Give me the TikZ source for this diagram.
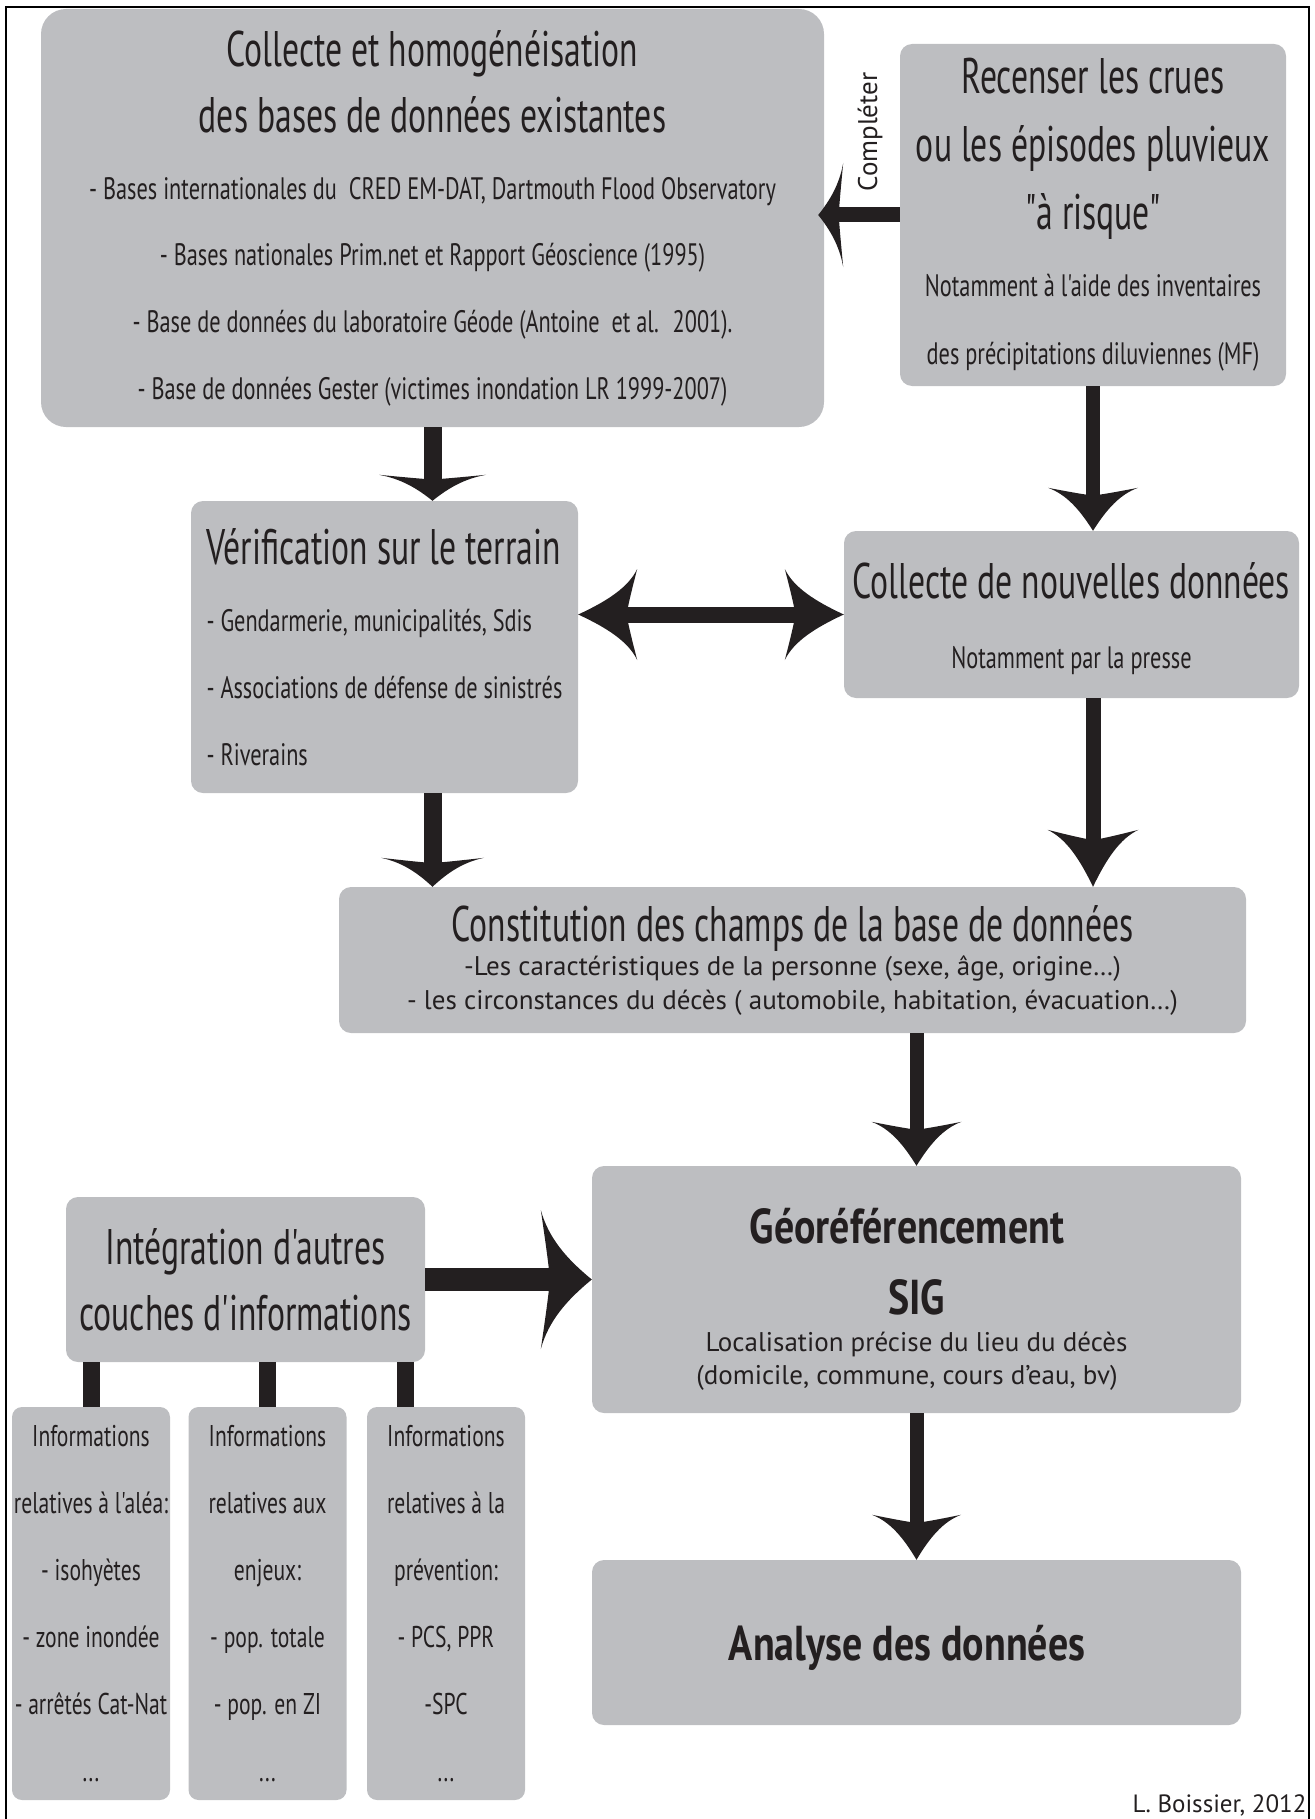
\documentclass[tikz,border=0pt]{standalone}
\usepackage{fontspec}
\setmainfont{PT Sans}[Ligatures=TeXOff]
\newfontfamily\condfont{PT Sans}[Ligatures=TeXOff, FakeStretch=0.673]
\newfontfamily\bcondfont{PT Sans}[Ligatures=TeXOff, FakeStretch=0.815]
\newfontfamily\semifont{PT Sans}[Ligatures=TeXOff, FakeStretch=0.72]
\usetikzlibrary{arrows.meta}

\definecolor{boxgray}{RGB}{189,190,193}
\definecolor{ink}{RGB}{35,31,32}

% swept arrow head
\pgfdeclarearrow{
  name = Swoop,
  parameters = {\the\pgfarrowlength,\the\pgfarrowwidth},
  setup code = {
    \pgfarrowssettipend{0pt}
    \pgfarrowssetlineend{-.7\pgfarrowlength}
    \pgfarrowssetbackend{-\pgfarrowlength}
    \pgfarrowshullpoint{0pt}{0pt}
    \pgfarrowsupperhullpoint{-\pgfarrowlength}{.5\pgfarrowwidth}
    \pgfarrowssavethe\pgfarrowlength
    \pgfarrowssavethe\pgfarrowwidth
  },
  drawing code = {
    \pgfpathmoveto{\pgfpointorigin}
    \pgfpathcurveto{\pgfpoint{-.5\pgfarrowlength}{.15\pgfarrowwidth}}{\pgfpoint{-.85\pgfarrowlength}{.3\pgfarrowwidth}}{\pgfpoint{-\pgfarrowlength}{.5\pgfarrowwidth}}
    \pgfpathcurveto{\pgfpoint{-.92\pgfarrowlength}{.3\pgfarrowwidth}}{\pgfpoint{-.85\pgfarrowlength}{.12\pgfarrowwidth}}{\pgfpoint{-.82\pgfarrowlength}{0pt}}
    \pgfpathcurveto{\pgfpoint{-.85\pgfarrowlength}{-.12\pgfarrowwidth}}{\pgfpoint{-.92\pgfarrowlength}{-.3\pgfarrowwidth}}{\pgfpoint{-\pgfarrowlength}{-.5\pgfarrowwidth}}
    \pgfpathcurveto{\pgfpoint{-.85\pgfarrowlength}{-.3\pgfarrowwidth}}{\pgfpoint{-.5\pgfarrowlength}{-.15\pgfarrowwidth}}{\pgfpointorigin}
    \pgfpathclose
    \pgfusepathqfill
  },
  defaults = {length=30pt, width=100pt}
}

\newcommand\ttl{\condfont\fontsize{50}{50}\selectfont}
\newcommand\bttl{\bcondfont\bfseries\fontsize{49}{49}\selectfont}

\begin{document}
\begin{tikzpicture}[x=1pt, y=-1pt,
    box/.style={fill=boxgray, rounded corners=12pt, text=ink, align=center, inner sep=0pt},
    arr/.style={line width=#1, color=ink}]
  \useasboundingbox (0,0) rectangle (1314,1819);
  % Frame
  \draw[line width=2.5pt] (6,1819) -- (6,7) -- (1309,7) -- (1309,1819);

  % Boxes
  \node[box, rounded corners=25pt, minimum width=783, minimum height=418,
    font=\semifont\fontsize{31}{66.6}\selectfont] (collecte) at (432.5,218)
    {{\ttl Collecte et homogénéisation}\\
     {\ttl des bases de données existantes}\\
     - Bases internationales du~ CRED EM-DAT, Dartmouth Flood Observatory\\
     - Bases nationales Prim.net et Rapport Géoscience (1995)\\
     - Base de données du laboratoire Géode (Antoine~ et al.~ 2001).\\
     - Base de données Gester (victimes inondation LR 1999-2007)};
  \node[box, minimum width=386, minimum height=342,
    font=\semifont\fontsize{31}{67.7}\selectfont] (recenser) at (1093,215)
    {{\ttl Recenser les crues}\\
     {\ttl ou les épisodes pluvieux}\\
     {\ttl "à risque"}\\
     Notamment à l'aide des inventaires\\
     des précipitations diluviennes (MF)};
  \node[box, align=left, minimum width=387, minimum height=292,
    font=\semifont\fontsize{31}{67}\selectfont] (verif) at (384.5,647)
    {{\ttl Vérification sur le terrain}\\
     - Gendarmerie, municipalités, Sdis\\
     - Associations de défense de sinistrés\\
     - Riverains};
  \node[box, minimum width=455, minimum height=167,
    font=\semifont\fontsize{31}{70}\selectfont] (nouv) at (1071.5,614.5)
    {{\ttl\rule{0pt}{44pt}Collecte de nouvelles données}\\
     Notamment par la presse};
  \node[box, minimum width=907, minimum height=146,
    font=\fontsize{27}{34}\selectfont] (constit) at (792.5,960)
    {{\ttl Constitution des champs de la base de données}\\
     -Les caractéristiques de la personne (sexe, âge, origine…)\\
     - les circonstances du décès ( automobile, habitation, évacuation…)};
  \node[box, minimum width=649, minimum height=247,
    font=\fontsize{27}{33}\selectfont] (geo) at (916.5,1289.5)
    {{\bttl\rule{0pt}{55pt}Géoréférencement}\hspace*{19pt}\\[35pt]
     {\bttl SIG}\hspace*{19pt}\\[4pt]
     Localisation précise du lieu du décès\hspace*{19pt}\\
     (domicile, commune, cours d’eau, bv)\hspace*{19pt}};
  \node[box, minimum width=649, minimum height=165, text depth=0pt, font=\bttl] (analyse) at (916.5,1642.5)
    {Analyse des données\hspace*{19pt}};
  \node[box, minimum width=359, minimum height=165,
    font=\condfont\fontsize{50}{66}\selectfont] (integ) at (245.5,1279.5)
    {Intégration d'autres\\couches d'informations};
  \foreach \i/\x/\lines in {
      1/91/{Informations\\relatives à l'aléa:\\- isohyètes\\- zone inondée\\- arrêtés Cat-Nat\\...},
      2/267.5/{Informations\\relatives aux\\enjeux:\\- pop. totale\\- pop. en ZI\\...},
      3/446/{Informations\\relatives à la\\prévention:\\- PCS, PPR\\-SPC\\...}}
    \node[box, rounded corners=10pt, minimum width=158, minimum height=393,
      font=\semifont\fontsize{30}{67}\selectfont] (info\i) at (\x,1603.5) {\lines};

  % Labels
  \node[rotate=90, text=ink, font=\fontsize{27}{27}\selectfont] (compl) at (870,132) {Compléter};
  \node[anchor=base east, text=ink, font=\fontsize{25}{25}\selectfont] (sign) at (1310,1812)
    {L. Boissier, 2012};

  % Arrows
  \draw[arr=15pt, -{Swoop[length=25pt,width=104pt]}, shorten >=-6pt]
    (recenser.west) -- (recenser.west -| collecte.east);
  \draw[arr=18pt, -{Swoop[length=26pt,width=107pt]}] (collecte.south) -- (collecte.south |- verif.north);
  \draw[arr=14pt, -{Swoop[length=43pt,width=90pt]}] (recenser.south) -- (recenser.south |- nouv.north);
  \draw[arr=16pt, {Swoop[length=59pt,width=91pt]}-{Swoop[length=59pt,width=91pt]}]
    (verif.east |- nouv.west) -- (nouv.west);
  \draw[arr=18pt, -{Swoop[length=29pt,width=103pt]}] (verif.south -| collecte.south) -- (constit.north -| collecte.south);
  \draw[arr=15pt, -{Swoop[length=57pt,width=91pt]}] (nouv.south -| recenser.south) -- (constit.north -| recenser.south);
  \draw[arr=14pt, -{Swoop[length=44pt,width=90pt]}] (constit.south -| geo.north) -- (geo.north);
  \draw[arr=23pt, -{Swoop[length=51pt,width=139pt]}] (integ.east) -- (integ.east -| geo.west);
  \draw[arr=14pt, -{Swoop[length=45pt,width=89pt]}] (geo.south) -- (analyse.north);

  % Links to the information boxes
  \coordinate (bar3) at ([xshift=-20pt]integ.south east);
  \draw[arr=17pt] (info1.north) -- (info1.north |- integ.south);
  \draw[arr=17pt] (info2.north) -- (info2.north |- integ.south);
  \draw[arr=17pt] (bar3) -- (bar3 |- info3.north);
\end{tikzpicture}
\end{document}
